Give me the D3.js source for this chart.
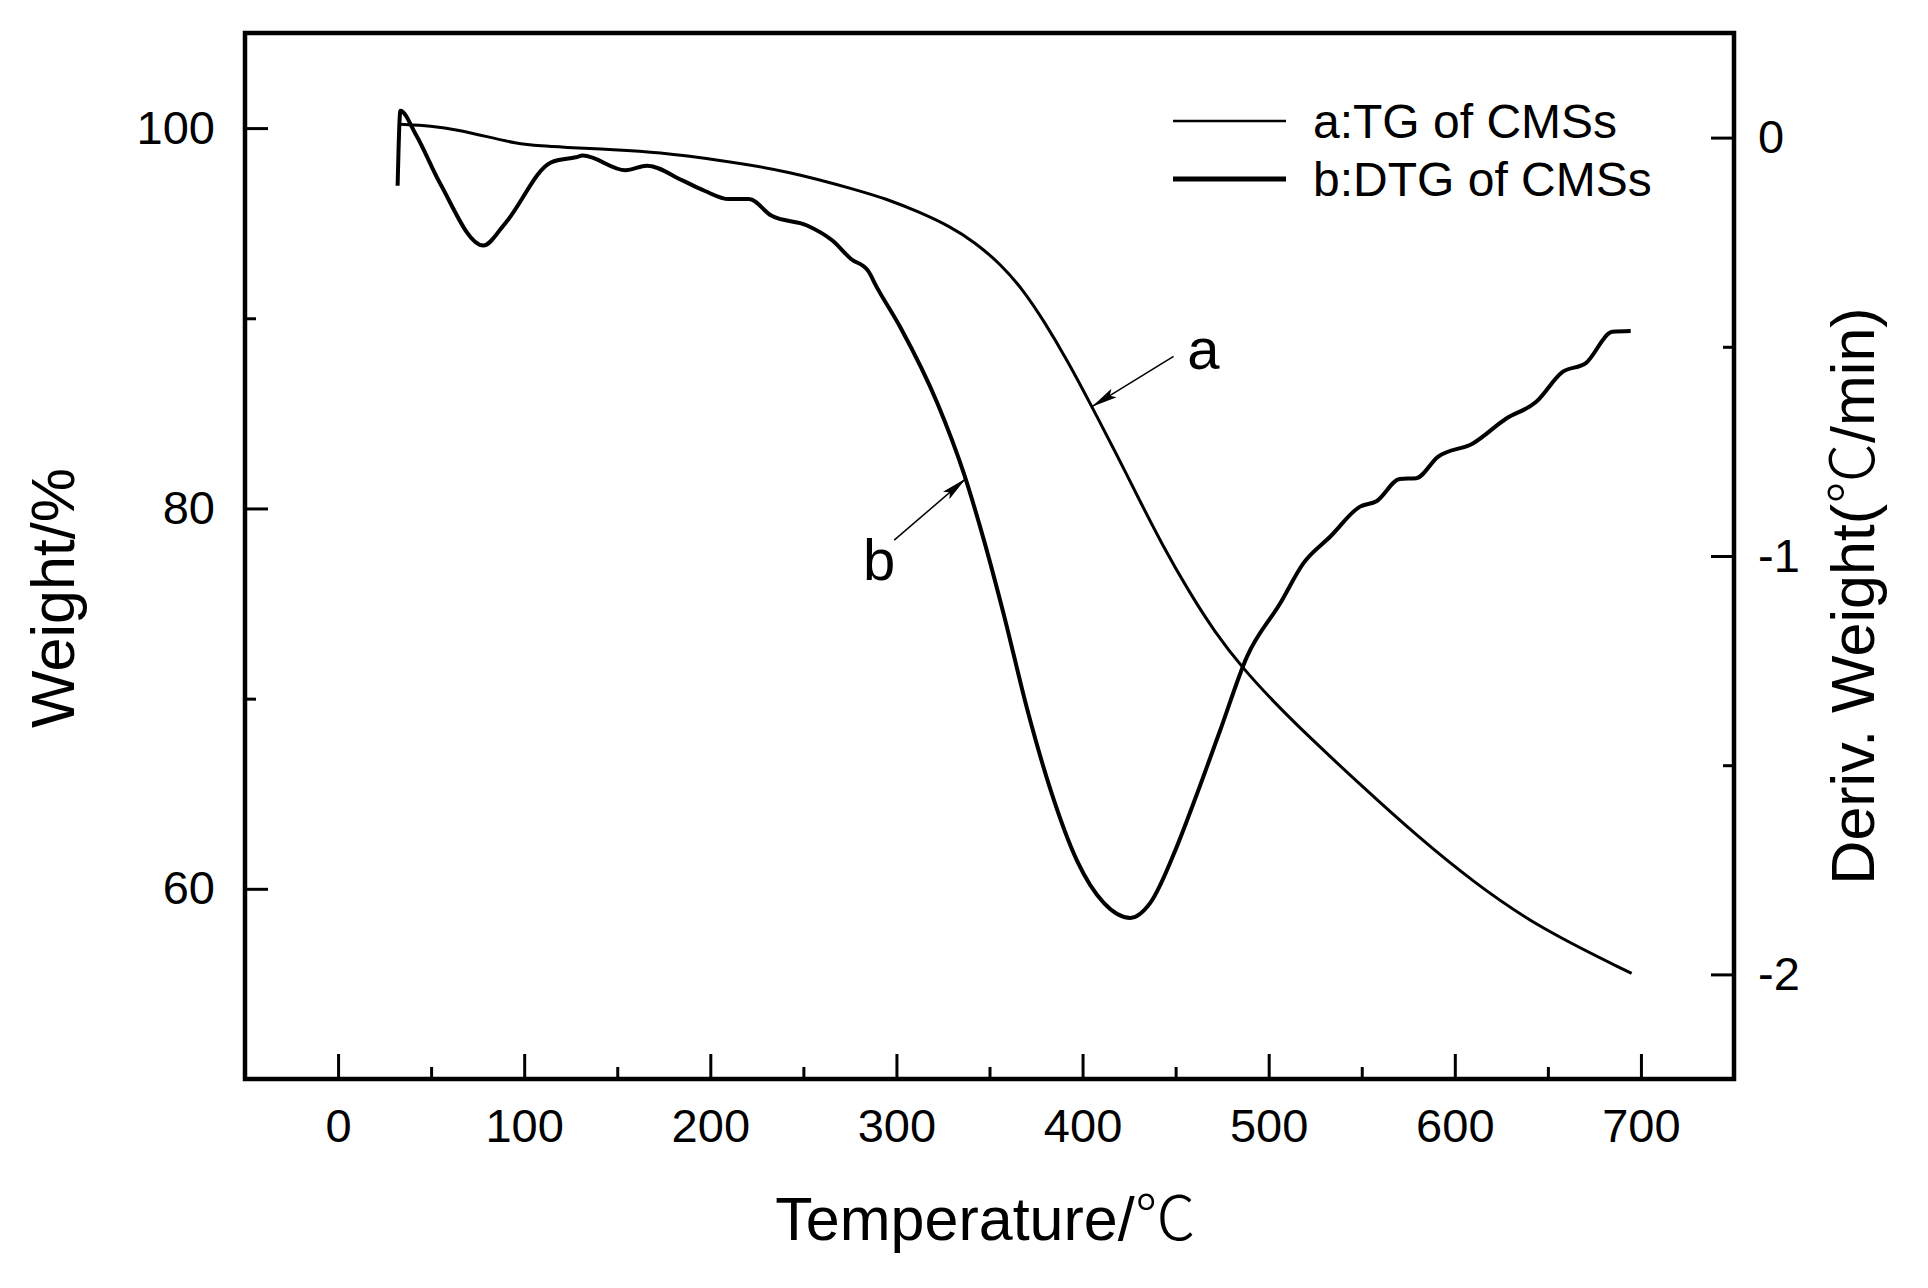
<!DOCTYPE html>
<html>
<head>
<meta charset="utf-8">
<script src="https://cdn.jsdelivr.net/npm/d3@7"></script>
<style>
  body { margin: 0; background: #fff; }
  text { font-family: "Liberation Sans", Arial, "Noto Sans CJK SC", sans-serif; fill: #000; }
  .cjk { font-family: "Noto Sans CJK SC", "Liberation Sans", sans-serif; font-weight: 300; }
</style>
</head>
<body>
<div id="wrapper"></div>
<script>
// TG curve (a): temperature in degC, weight in %
const tgTemps = [33, 50, 65, 80, 95, 110, 120, 149, 171.6, 204, 242.7, 281, 293.5, 311.5, 329, 342, 356, 368, 379, 392, 405, 418, 430, 443, 457, 471, 486, 503, 520.5, 550, 580, 610, 645, 695]
const tgWeights = [100.2, 100.12, 99.9, 99.55, 99.2, 99.05, 99.0, 98.86, 98.73, 98.33, 97.73, 96.68, 96.31, 95.62, 94.82, 94.0, 92.85, 91.5, 89.9, 87.75, 85.35, 82.9, 80.55, 78.05, 75.65, 73.5, 71.6, 69.8, 68.1, 65.4, 62.75, 60.35, 57.95, 55.55]

// DTG curve (b): temperature in degC, derivative weight
const dtgTemps = [32, 33.5, 41.7, 55, 78, 89.6, 114.5, 127.7, 131.5, 154.5, 166, 185.3, 196.8, 210, 220.7, 233, 252, 265.6, 275.6, 284.7, 289.5, 302.3, 322, 336.3, 347, 357.8, 370.3, 382.8, 397, 411.4, 425.7, 436.4, 450.7, 459.6, 474, 488.3, 506.2, 518.7, 533, 549.1, 557.9, 570.4, 579.3, 590.9, 609.7, 627.5, 643.6, 657.9, 670.4, 684.7, 694.5]
const dtgValues = [-0.115, 0.064, 0.008, -0.111, -0.258, -0.206, -0.059, -0.047, -0.043, -0.078, -0.067, -0.103, -0.127, -0.147, -0.147, -0.187, -0.21, -0.246, -0.29, -0.318, -0.358, -0.455, -0.635, -0.804, -0.962, -1.142, -1.367, -1.559, -1.728, -1.829, -1.865, -1.829, -1.694, -1.591, -1.416, -1.241, -1.113, -1.017, -0.954, -0.882, -0.869, -0.816, -0.814, -0.763, -0.731, -0.672, -0.632, -0.56, -0.539, -0.464, -0.462]

// ticks
const xMajorTicks = [0, 100, 200, 300, 400, 500, 600, 700]
const xMinorTicks = [50, 150, 250, 350, 450, 550, 650]
const yLeftMajorTicks = [60, 80, 100]
const yLeftMinorTicks = [70, 90]
const yRightMajorTicks = [0, -1, -2]
const yRightMinorTicks = [-0.5, -1.5]

const legendLabels = ["a:TG of CMSs", "b:DTG of CMSs"]

function drawChart() {

  const tgData = tgTemps.map((t, i) => ({ t: t, v: tgWeights[i] }))
  const dtgData = dtgTemps.map((t, i) => ({ t: t, v: dtgValues[i] }))

  const xAccessor = d => d.t
  const yAccessor = d => d.v

  let dimensions = {
    width: 1928,
    height: 1288,
    margin: {
      top: 33,
      right: 194,
      bottom: 209,
      left: 245,
    },
  }
  dimensions.boundedWidth = dimensions.width
    - dimensions.margin.left
    - dimensions.margin.right
  dimensions.boundedHeight = dimensions.height
    - dimensions.margin.top
    - dimensions.margin.bottom

  const wrapper = d3.select("#wrapper")
    .append("svg")
      .attr("width", dimensions.width)
      .attr("height", dimensions.height)

  const bounds = wrapper.append("g")
    .attr("transform", `translate(${dimensions.margin.left},${dimensions.margin.top})`)

  const xScaler = d3.scaleLinear()
    .domain([-50, 750])
    .range([0, dimensions.boundedWidth])

  const yLeftScaler = d3.scaleLinear()
    .domain([50, 105])
    .range([dimensions.boundedHeight, 0])

  const yRightScaler = d3.scaleLinear()
    .domain([-2.25, 0.25])
    .range([dimensions.boundedHeight, 0])

  // arrow marker
  wrapper.append("defs")
    .append("marker")
      .attr("id", "arrowHead")
      .attr("markerUnits", "userSpaceOnUse")
      .attr("markerWidth", 26)
      .attr("markerHeight", 12)
      .attr("refX", 26)
      .attr("refY", 6)
      .attr("orient", "auto")
    .append("path")
      .attr("d", "M0,1 L26,6 L0,11 L5,6 Z")
      .attr("fill", "black")

  // curves
  const tgLine = d3.line()
    .x(d => xScaler(xAccessor(d)))
    .y(d => yLeftScaler(yAccessor(d)))
    .curve(d3.curveBasis)

  const dtgLine = d3.line()
    .x(d => xScaler(xAccessor(d)))
    .y(d => yRightScaler(yAccessor(d)))
    .curve(d3.curveMonotoneX)

  bounds.append("path")
    .datum(tgData)
    .attr("d", tgLine)
    .attr("fill", "none")
    .attr("stroke", "black")
    .attr("stroke-width", 3)
    .attr("stroke-linejoin", "round")

  bounds.append("path")
    .datum(dtgData)
    .attr("d", dtgLine)
    .attr("fill", "none")
    .attr("stroke", "black")
    .attr("stroke-width", 4)
    .attr("stroke-linejoin", "round")

  // axes (ticks point inward)
  const tickFont = "47px"

  const xAxis = bounds.append("g")
    .attr("transform", `translate(0,${dimensions.boundedHeight})`)
    .call(d3.axisBottom(xScaler).tickValues(xMajorTicks).tickSizeInner(-25).tickSizeOuter(0).tickFormat(d => d))
  bounds.append("g")
    .attr("transform", `translate(0,${dimensions.boundedHeight})`)
    .call(d3.axisBottom(xScaler).tickValues(xMinorTicks).tickSizeInner(-12).tickSizeOuter(0).tickFormat(""))
  xAxis.selectAll("text")
    .attr("y", 63)
    .attr("dy", 0)
    .style("font-size", tickFont)

  const yLeftAxis = bounds.append("g")
    .call(d3.axisLeft(yLeftScaler).tickValues(yLeftMajorTicks).tickSizeInner(-23).tickSizeOuter(0).tickFormat(d => d))
  bounds.append("g")
    .call(d3.axisLeft(yLeftScaler).tickValues(yLeftMinorTicks).tickSizeInner(-11).tickSizeOuter(0).tickFormat(""))
  yLeftAxis.selectAll("text")
    .attr("x", -30)
    .style("font-size", tickFont)

  const yRightAxis = bounds.append("g")
    .attr("transform", `translate(${dimensions.boundedWidth},0)`)
    .call(d3.axisRight(yRightScaler).tickValues(yRightMajorTicks).tickSizeInner(-23).tickSizeOuter(0).tickFormat(d => String(d)))
  bounds.append("g")
    .attr("transform", `translate(${dimensions.boundedWidth},0)`)
    .call(d3.axisRight(yRightScaler).tickValues(yRightMinorTicks).tickSizeInner(-11).tickSizeOuter(0).tickFormat(""))
  yRightAxis.selectAll("text")
    .attr("x", 24)
    .style("font-size", tickFont)

  bounds.selectAll(".domain").remove()
  bounds.selectAll(".tick line")
    .attr("stroke", "black")
    .attr("stroke-width", 3)

  // frame
  bounds.append("rect")
    .attr("x", 0)
    .attr("y", 0)
    .attr("width", dimensions.boundedWidth)
    .attr("height", dimensions.boundedHeight)
    .attr("fill", "none")
    .attr("stroke", "black")
    .attr("stroke-width", 4.5)

  // axis titles
  const titleFont = "61px"

  const xTitle = bounds.append("text")
    .attr("x", xScaler(350) - 4)
    .attr("y", dimensions.boundedHeight + 161)
    .attr("text-anchor", "middle")
    .style("font-size", titleFont)
  xTitle.append("tspan").text("Temperature/")
  xTitle.append("tspan").attr("class", "cjk").text("℃")

  wrapper.append("text")
    .attr("transform", "translate(74,598) rotate(-90)")
    .attr("text-anchor", "middle")
    .style("font-size", titleFont)
    .text("Weight/%")

  const yRightTitle = wrapper.append("text")
    .attr("transform", "translate(1874,596) rotate(-90)")
    .attr("text-anchor", "middle")
    .style("font-size", titleFont)
  yRightTitle.append("tspan").text("Deriv. Weight(")
  yRightTitle.append("tspan").attr("class", "cjk").text("℃")
  yRightTitle.append("tspan").text("/min)")

  // legend
  const legend = bounds.append("g")
    .attr("transform", `translate(${xScaler(448.6)},${yLeftScaler(100.37)})`)
  const legendItems = legend.selectAll("g")
    .data(legendLabels)
    .enter()
    .append("g")
      .attr("transform", (d, i) => `translate(0,${i * 58})`)
  legendItems.append("line")
    .attr("x1", 0)
    .attr("x2", 113)
    .attr("stroke", "black")
    .attr("stroke-width", (d, i) => i === 0 ? 2.5 : 5)
  legendItems.append("text")
    .attr("x", 140)
    .attr("dy", "0.35em")
    .style("font-size", "48px")
    .text(d => d)

  // annotations
  const annA = { tail: [448.9, 88.0], tip: [405, 85.35], label: [456.3, 87.35] }
  const annB = { tail: [298.8, -0.962], tip: [337.3, -0.815], label: [282, -1.057] }

  bounds.append("line")
    .attr("x1", xScaler(annA.tail[0]))
    .attr("y1", yLeftScaler(annA.tail[1]))
    .attr("x2", xScaler(annA.tip[0]))
    .attr("y2", yLeftScaler(annA.tip[1]))
    .attr("stroke", "black")
    .attr("stroke-width", 1.5)
    .attr("marker-end", "url(#arrowHead)")
  bounds.append("text")
    .attr("x", xScaler(annA.label[0]))
    .attr("y", yLeftScaler(annA.label[1]))
    .style("font-size", "58px")
    .text("a")

  bounds.append("line")
    .attr("x1", xScaler(annB.tail[0]))
    .attr("y1", yRightScaler(annB.tail[1]))
    .attr("x2", xScaler(annB.tip[0]))
    .attr("y2", yRightScaler(annB.tip[1]))
    .attr("stroke", "black")
    .attr("stroke-width", 1.5)
    .attr("marker-end", "url(#arrowHead)")
  bounds.append("text")
    .attr("x", xScaler(annB.label[0]))
    .attr("y", yRightScaler(annB.label[1]))
    .style("font-size", "58px")
    .text("b")
}

drawChart()
</script>
</body>
</html>
